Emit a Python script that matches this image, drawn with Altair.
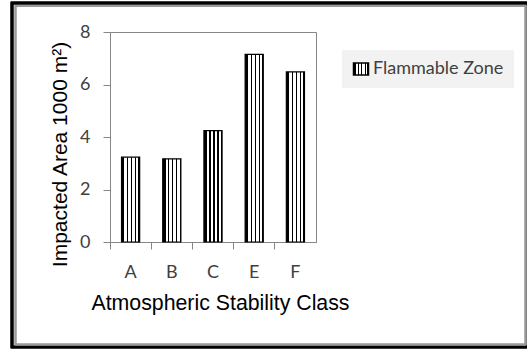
import altair as alt
import pandas as pd

categories = ["A", "B", "C", "E", "F"]
values = [3.23, 3.17, 4.24, 7.15, 6.48]
series_name = ["Flammable Zone"] * 5
y_ticks = [0, 2, 4, 6, 8]

df = pd.DataFrame({"cls": categories, "area": values, "series": series_name})

# vertical stripe fill (pattern imitation through hard gradient stops)
edges = [(0.0, 0.16, "black"), (0.16, 0.30, "white"), (0.30, 0.37, "black"),
         (0.37, 0.52, "white"), (0.52, 0.59, "black"), (0.59, 0.74, "white"),
         (0.74, 0.81, "black"), (0.81, 0.93, "white"), (0.93, 1.0, "black")]
stops = []
for a, b, c in edges:
    stops.append(alt.GradientStop(offset=a, color=c))
    stops.append(alt.GradientStop(offset=b, color=c))
stripes = alt.LinearGradient(gradient="linear", x1=0, x2=1, y1=0, y2=0, stops=stops)

legend_path = "M-1.25,-1H1.25V1H-1.25Z"

W, H = 206, 210

bars = alt.Chart(df).mark_bar(
    width=alt.RelativeBandSize(0.44), fill=stripes, strokeWidth=1.2
).encode(
    x=alt.X("cls:N", sort=categories,
            scale=alt.Scale(paddingInner=0, paddingOuter=0),
            axis=alt.Axis(title="Atmospheric Stability Class", labelAngle=0,
                          bandPosition=0, tickSize=7, labelPadding=14,
                          labelFont="Lato", labelFontSize=18, labelColor="#404040",
                          titleFont="Liberation Sans", titleFontSize=21.3,
                          titleFontWeight="normal", titleColor="#000000",
                          titleX=110, titleY=67, titleAlign="center",
                          titleBaseline="alphabetic",
                          domainColor="#868686", tickColor="#868686")),
    y=alt.Y("area:Q", scale=alt.Scale(domain=[0, 8], nice=False),
            axis=alt.Axis(title="Impacted Area 1000 m²)", values=y_ticks,
                          grid=False, tickSize=7, labelPadding=13,
                          labelFont="Lato", labelFontSize=18, labelColor="#404040",
                          titleFont="Liberation Sans", titleFontSize=21,
                          titleFontWeight="normal", titleColor="#000000",
                          titleX=-44, titleY=122, titleAngle=270,
                          titleAlign="center", titleBaseline="alphabetic",
                          domainColor="#868686", tickColor="#868686")),
    stroke=alt.Stroke("series:N", scale=alt.Scale(range=["black"]),
                      legend=alt.Legend(title=None, orient="none",
                                        legendX=232, legendY=18,
                                        fillColor="#f2f2f2", padding=10,
                                        symbolType=legend_path, symbolSize=144,
                                        symbolStrokeColor="black",
                                        symbolStrokeWidth=1.5, labelOffset=3,
                                        labelFont="Lato", labelFontSize=18,
                                        labelColor="#404040")),
)

outer = alt.Chart(df).mark_rect(fill=None, stroke="black", strokeWidth=2.5, clip=False).encode(
    x=alt.value(-98), x2=alt.value(418), y=alt.value(-29), y2=alt.value(315))
inner = alt.Chart(df).mark_rect(fill=None, stroke="#9a9a9a", strokeWidth=1.5, clip=False).encode(
    x=alt.value(-94.5), x2=alt.value(415.5), y=alt.value(-26), y2=alt.value(312.5))

chart = alt.layer(outer, inner, bars).properties(
    width=W, height=H,
    autosize=alt.AutoSizeParams(type="none"),
    padding={"left": 110, "top": 32, "right": 527 - 110 - W, "bottom": 349 - 32 - H},
    background="white",
).configure_view(stroke="#868686", strokeWidth=1)

chart.save("out.html", embed_options={"renderer": "svg", "actions": False})
